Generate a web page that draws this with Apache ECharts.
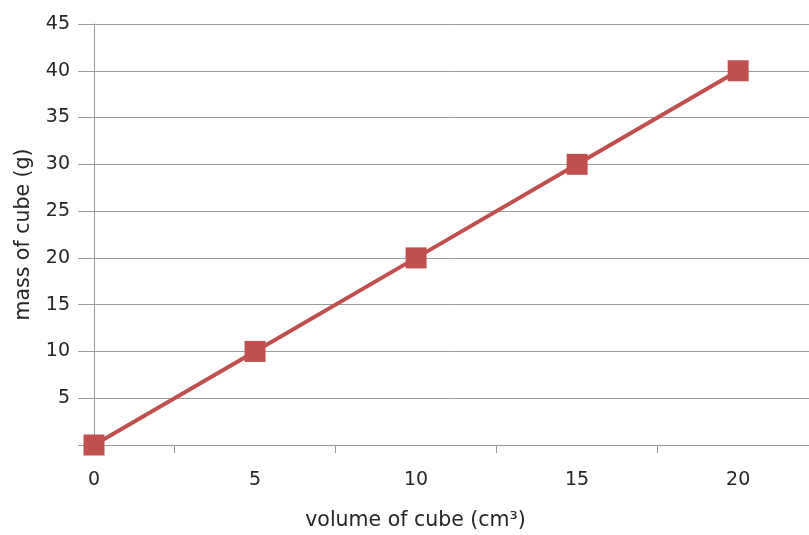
<!DOCTYPE html>
<html><head><meta charset="utf-8">
<script src="https://cdn.jsdelivr.net/npm/echarts@6/dist/echarts.min.js"></script>
<style>html,body{margin:0;padding:0;background:#fff}#c{width:809px;height:535px}</style>
</head><body><div id="c"></div>
<script>
const volume = [0, 5, 10, 15, 20];
const mass = [0, 10, 20, 30, 40];
const xLabels = [0, 5, 10, 15, 20];
const xTicks = [2.5, 7.5, 12.5, 17.5, 22.5];
const yLabels = [5, 10, 15, 20, 25, 30, 35, 40, 45];

const FONT = 'DejaVu Sans';
const FS = 19;
const TFS = 20.5;
const chart = echarts.init(document.getElementById('c'), null, {renderer: 'canvas'});
chart.setOption({
  animation: false,
  grid: {left: 94, top: 24, bottom: 90, right: 0, outerBoundsMode: 'none', containLabel: false},
  xAxis: {
    type: 'value', min: 0, max: 22.2,
    name: 'volume of cube (cm³)', nameLocation: 'middle', nameGap: 65,
    nameTextStyle: {fontFamily: FONT, fontSize: TFS, color: '#262626', padding: [0, 0, 0, -72]},
    axisLine: {show: true, lineStyle: {color: '#9a9a9a', width: 1}},
    axisTick: {show: true, customValues: xTicks, length: 8, inside: false, lineStyle: {color: '#9a9a9a'}},
    axisLabel: {customValues: xLabels, margin: 26, fontFamily: FONT, fontSize: FS, color: '#262626'},
    splitLine: {show: false}
  },
  yAxis: {
    type: 'value', min: 0, max: 45, interval: 5,
    name: 'mass of cube (g)', nameLocation: 'middle', nameGap: 60,
    nameTextStyle: {fontFamily: FONT, fontSize: TFS, color: '#262626'},
    axisLine: {show: true, lineStyle: {color: '#9a9a9a', width: 1}},
    axisTick: {show: true, length: 16, lineStyle: {color: '#9a9a9a'}},
    axisLabel: {customValues: yLabels, margin: 24, fontFamily: FONT, fontSize: FS, color: '#262626'},
    splitLine: {show: true, lineStyle: {color: '#9a9a9a', width: 1}}
  },
  series: [{
    type: 'line',
    data: volume.map((v, i) => [v, mass[i]]),
    symbol: 'rect', symbolSize: 21,
    lineStyle: {color: '#C0504D', width: 4},
    itemStyle: {color: '#C0504D'}
  }]
});
</script></body></html>
